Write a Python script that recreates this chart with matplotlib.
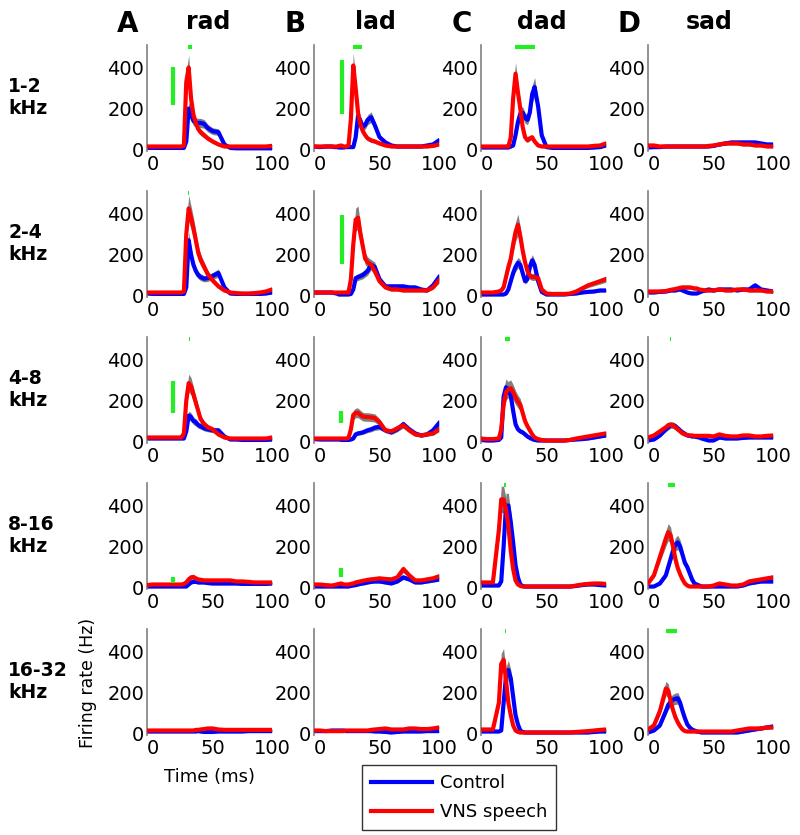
import matplotlib
matplotlib.use('Agg')
import matplotlib.pyplot as plt
from matplotlib.lines import Line2D
import numpy as np

# time axis (ms) shared by all PSTHs
T = [-5, 0, 5, 10, 12, 14, 16, 18, 20, 22, 24, 26, 28, 30, 32, 34, 36, 38, 40,
     43, 46, 50, 55, 60, 65, 70, 75, 80, 85, 90, 95, 100]

sounds = ['rad', 'lad', 'dad', 'sad']
panel_letters = ['A', 'B', 'C', 'D']
bands = ['1-2\nkHz', '2-4\nkHz', '4-8\nkHz', '8-16\nkHz', '16-32\nkHz']

# firing rate (Hz), one list per sound: [rad, lad, dad, sad]
ctrl_1_2 = [
    [8, 8, 8, 8, 8, 8, 8, 8, 8, 8, 8, 8, 40, 200, 170, 140, 132, 130, 130, 125, 105, 90, 85, 25, 8, 6, 6, 6, 6, 6, 6, 6],
    [15, 12, 15, 15, 12, 12, 10, 10, 10, 12, 12, 12, 12, 60, 165, 140, 110, 120, 145, 158, 120, 61, 35, 20, 15, 15, 15, 15, 15, 20, 25, 45],
    [10, 10, 10, 10, 10, 10, 10, 10, 15, 20, 70, 134, 175, 180, 155, 145, 180, 270, 305, 210, 70, 12, 8, 8, 8, 8, 8, 8, 8, 10, 12, 20],
    [10, 12, 12, 15, 15, 15, 15, 15, 15, 15, 15, 15, 15, 15, 15, 15, 15, 15, 15, 15, 15, 18, 25, 30, 35, 35, 35, 35, 35, 30, 25, 25],
]
vns_1_2 = [
    [15, 15, 15, 15, 15, 15, 15, 15, 15, 15, 15, 20, 330, 400, 250, 170, 130, 100, 85, 70, 55, 40, 25, 15, 15, 15, 15, 15, 15, 15, 15, 18],
    [15, 15, 15, 15, 15, 15, 18, 20, 15, 15, 20, 150, 410, 300, 180, 120, 90, 70, 55, 45, 40, 30, 20, 15, 15, 15, 15, 15, 15, 15, 18, 25],
    [15, 15, 15, 15, 15, 15, 15, 15, 60, 250, 370, 280, 200, 110, 61, 45, 55, 60, 40, 20, 15, 15, 15, 15, 15, 15, 15, 15, 15, 18, 20, 30],
    [20, 20, 15, 15, 15, 15, 15, 15, 15, 15, 15, 15, 15, 15, 15, 15, 15, 15, 15, 15, 18, 20, 25, 30, 30, 30, 25, 25, 20, 20, 15, 15],
]
ctrl_2_4 = [
    [10, 8, 8, 8, 8, 8, 8, 8, 8, 8, 8, 8, 40, 270, 200, 150, 120, 100, 90, 82, 85, 95, 110, 40, 10, 8, 8, 8, 8, 8, 10, 15],
    [15, 15, 15, 15, 12, 10, 5, 5, 5, 5, 5, 8, 30, 85, 90, 95, 100, 110, 120, 150, 140, 80, 45, 45, 45, 45, 40, 40, 30, 25, 50, 90],
    [5, 5, 5, 5, 5, 5, 10, 30, 70, 110, 140, 160, 150, 110, 70, 80, 140, 172, 150, 70, 18, 5, 5, 5, 5, 8, 10, 15, 18, 20, 25, 25],
    [15, 15, 18, 20, 22, 25, 25, 25, 28, 30, 25, 20, 15, 12, 10, 10, 10, 15, 20, 25, 30, 25, 30, 30, 30, 25, 30, 30, 50, 30, 25, 20],
]
vns_2_4 = [
    [15, 15, 15, 15, 15, 15, 15, 15, 15, 15, 15, 20, 300, 425, 380, 330, 270, 210, 175, 140, 105, 75, 45, 25, 15, 12, 10, 10, 12, 15, 20, 30],
    [15, 15, 15, 15, 15, 15, 15, 15, 15, 15, 15, 80, 250, 370, 380, 300, 240, 180, 162, 150, 120, 70, 40, 30, 30, 25, 25, 25, 25, 25, 40, 75],
    [15, 15, 15, 20, 25, 40, 90, 140, 180, 250, 310, 345, 290, 220, 162, 120, 97, 90, 92, 85, 30, 10, 8, 8, 8, 10, 20, 35, 50, 60, 70, 80],
    [20, 20, 20, 22, 25, 28, 30, 32, 35, 38, 40, 40, 40, 40, 38, 35, 35, 30, 28, 25, 25, 25, 30, 25, 25, 30, 30, 25, 25, 25, 20, 20],
]
ctrl_4_8 = [
    [15, 15, 15, 15, 15, 15, 15, 15, 15, 15, 15, 15, 50, 127, 120, 100, 95, 80, 75, 65, 60, 55, 55, 25, 10, 10, 8, 8, 8, 8, 8, 10],
    [12, 10, 10, 10, 10, 10, 10, 8, 8, 8, 8, 10, 15, 35, 40, 42, 45, 50, 55, 60, 68, 72, 55, 45, 60, 85, 60, 40, 30, 35, 55, 90],
    [8, 5, 5, 8, 20, 220, 265, 250, 225, 150, 85, 60, 50, 45, 35, 25, 18, 12, 8, 5, 5, 5, 5, 5, 5, 8, 10, 12, 15, 20, 25, 30],
    [5, 10, 30, 60, 70, 80, 80, 75, 65, 55, 45, 38, 30, 28, 25, 25, 22, 20, 15, 10, 5, 5, 20, 15, 15, 15, 18, 20, 20, 20, 20, 20],
]
vns_4_8 = [
    [20, 20, 20, 20, 20, 20, 20, 20, 20, 20, 20, 40, 200, 285, 270, 230, 190, 150, 110, 85, 70, 60, 35, 20, 15, 15, 15, 15, 15, 15, 15, 20],
    [15, 15, 15, 15, 15, 15, 15, 15, 15, 15, 18, 60, 130, 140, 140, 130, 122, 120, 120, 118, 115, 95, 55, 50, 65, 80, 55, 35, 30, 35, 40, 60],
    [15, 12, 12, 15, 60, 180, 240, 255, 260, 240, 215, 195, 180, 140, 100, 75, 55, 35, 20, 12, 8, 5, 5, 5, 5, 8, 15, 20, 25, 30, 35, 40],
    [20, 30, 50, 70, 80, 82, 80, 70, 60, 50, 40, 35, 32, 30, 30, 28, 28, 28, 28, 28, 28, 25, 35, 28, 25, 25, 30, 30, 25, 25, 28, 30],
]
ctrl_8_16 = [
    [5, 5, 5, 5, 5, 5, 5, 5, 5, 5, 5, 5, 5, 15, 25, 28, 28, 25, 25, 25, 22, 20, 20, 20, 20, 20, 18, 18, 18, 18, 18, 20],
    [5, 5, 5, 5, 5, 5, 5, 5, 5, 5, 5, 8, 10, 12, 15, 18, 20, 22, 25, 28, 30, 30, 25, 20, 30, 50, 40, 25, 25, 30, 35, 40],
    [10, 10, 10, 10, 30, 200, 400, 400, 320, 220, 110, 50, 15, 8, 5, 5, 5, 5, 5, 5, 5, 5, 5, 5, 5, 5, 8, 12, 15, 15, 12, 10],
    [5, 5, 20, 60, 100, 140, 180, 210, 220, 200, 160, 120, 100, 70, 40, 20, 15, 10, 5, 5, 5, 5, 5, 5, 5, 5, 10, 20, 25, 30, 30, 30],
]
vns_8_16 = [
    [12, 15, 15, 15, 15, 15, 15, 15, 15, 15, 15, 18, 25, 40, 50, 52, 45, 40, 38, 35, 35, 35, 35, 35, 35, 30, 30, 28, 25, 25, 25, 25],
    [15, 15, 12, 10, 12, 15, 18, 20, 15, 15, 15, 18, 20, 25, 28, 30, 33, 35, 38, 40, 42, 45, 42, 40, 50, 90, 60, 35, 35, 40, 45, 55],
    [25, 25, 25, 280, 430, 430, 380, 300, 180, 90, 35, 15, 8, 5, 5, 5, 5, 5, 5, 5, 5, 5, 5, 5, 5, 5, 10, 15, 18, 20, 20, 18],
    [20, 60, 150, 240, 270, 255, 200, 140, 95, 65, 40, 20, 10, 5, 5, 5, 5, 5, 5, 5, 5, 10, 20, 15, 10, 10, 15, 30, 35, 40, 45, 50],
]
ctrl_16_32 = [
    [10, 10, 10, 10, 10, 10, 10, 10, 10, 10, 10, 10, 10, 10, 10, 10, 10, 12, 10, 8, 8, 8, 10, 10, 10, 10, 10, 12, 12, 12, 12, 12],
    [12, 12, 12, 15, 15, 15, 15, 15, 15, 12, 12, 12, 12, 12, 12, 12, 12, 12, 12, 12, 10, 10, 8, 5, 8, 10, 10, 10, 10, 12, 12, 12],
    [10, 10, 10, 10, 15, 150, 280, 310, 270, 180, 90, 45, 15, 8, 5, 5, 5, 5, 5, 5, 5, 5, 5, 5, 5, 5, 5, 5, 5, 8, 10, 10],
    [5, 15, 40, 110, 140, 155, 165, 170, 172, 150, 110, 75, 45, 30, 20, 15, 10, 8, 5, 5, 5, 5, 5, 5, 5, 5, 10, 15, 20, 25, 30, 35],
]
vns_16_32 = [
    [15, 15, 15, 15, 15, 15, 15, 15, 15, 15, 15, 15, 15, 15, 15, 15, 18, 18, 20, 22, 25, 25, 20, 18, 18, 18, 18, 18, 18, 18, 18, 18],
    [15, 15, 12, 12, 12, 12, 12, 12, 12, 15, 15, 15, 15, 15, 15, 15, 15, 15, 15, 18, 20, 22, 25, 20, 20, 20, 25, 25, 22, 22, 25, 30],
    [20, 20, 20, 150, 340, 360, 260, 150, 90, 40, 15, 8, 5, 5, 5, 5, 5, 5, 5, 5, 5, 5, 5, 5, 5, 5, 8, 10, 12, 15, 18, 20],
    [20, 40, 110, 220, 210, 160, 115, 80, 55, 35, 20, 12, 10, 10, 10, 10, 10, 10, 10, 10, 10, 10, 10, 10, 10, 15, 20, 25, 25, 25, 30, 30],
]

ctrl_rows = [ctrl_1_2, ctrl_2_4, ctrl_4_8, ctrl_8_16, ctrl_16_32]
vns_rows = [vns_1_2, vns_2_4, vns_4_8, vns_8_16, vns_16_32]

# significance marks: onset (row, col, time, rate_lo, rate_hi), peak (row, col, t0, t1)
onset_marks = [(0, 0, 17, 217, 402), (0, 1, 18.5, 173, 437), (1, 1, 18.5, 156, 395),
               (2, 0, 17, 137, 293), (2, 1, 18, 93, 151), (3, 0, 17, 20, 50), (3, 1, 18, 50, 97)]
peak_marks = [(0, 0, 29.5, 33), (0, 1, 28, 35), (0, 2, 23.5, 40), (1, 0, 29.8, 30.6),
              (2, 0, 30.5, 31.2), (2, 2, 15, 19.5), (2, 3, 13.5, 14.2), (3, 2, 14.5, 16),
              (3, 3, 12, 18), (4, 2, 15, 16), (4, 3, 10, 19)]

W, H = 800, 835
col_left = [147, 314, 481, 648]
row_top = [45, 191, 337, 483, 629]
ax_w, ax_h = 125, 105.6
green = '#22ee22'

fig = plt.figure(figsize=(W / 100, H / 100), dpi=100)
plt.rcParams['font.family'] = ['DejaVu Sans']

axes = {}
for r in range(5):
    for c in range(4):
        ax = fig.add_axes([col_left[c] / W, 1 - (row_top[r] + ax_h) / H, ax_w / W, ax_h / H])
        axes[(r, c)] = ax
        t = np.array(T)
        for y in [np.array(ctrl_rows[r][c]), np.array(vns_rows[r][c])]:
            err = 0.14 * y + 4
            ax.fill_between(t, y - err, y + err, color='#808080', lw=0, zorder=1)
        ax.plot(t, ctrl_rows[r][c], color='#0000ff', lw=3, zorder=2)
        ax.plot(t, vns_rows[r][c], color='#ff0000', lw=3, zorder=3)
        ax.set_xlim(-5, 100)
        ax.set_ylim(-5, 510)
        ax.set_xticks([0, 50, 100])
        ax.set_yticks([0, 200, 400])
        ax.tick_params(length=0, labelsize=14, pad=2)
        ax.tick_params(axis='x', pad=3)
        for s in ['top', 'right', 'bottom']:
            ax.spines[s].set_visible(False)
        ax.spines['left'].set_color('#808080')
        ax.spines['left'].set_linewidth(1.2)
        ax.patch.set_alpha(0)

for r, c, x, y0, y1 in onset_marks:
    axes[(r, c)].plot([x, x], [y0, y1], color=green, lw=3, solid_capstyle='butt', zorder=4)
for r, c, x0, x1 in peak_marks:
    axes[(r, c)].plot([x0, x1], [500, 500], color=green, lw=3, solid_capstyle='butt',
                      zorder=4, clip_on=False)

for c in range(4):
    x0 = col_left[c]
    fig.text((x0 - 19) / W, 1 - 24 / H, panel_letters[c], fontsize=20, fontweight='bold',
             ha='center', va='center')
    fig.text((x0 + 61) / W, 1 - 22 / H, sounds[c], fontsize=17, fontweight='bold',
             ha='center', va='center')

for r in range(5):
    fig.text(8 / W, 1 - (row_top[r] + ax_h / 2) / H, bands[r], fontsize=13.5, fontweight='bold',
             ha='left', va='center', multialignment='left', linespacing=1.2)

fig.text(88 / W, 1 - 683 / H, 'Firing rate (Hz)', fontsize=12.5, rotation=90,
         ha='center', va='center')
fig.text(210 / W, 1 - 777 / H, 'Time (ms)', fontsize=13, ha='center', va='center')

handles = [Line2D([], [], color='#0000ff', lw=3), Line2D([], [], color='#ff0000', lw=3)]
leg = fig.legend(handles, ['Control', 'VNS speech'], loc='lower left',
                 bbox_to_anchor=(362 / W, 5 / H), frameon=True, fancybox=False,
                 edgecolor='black', fontsize=13, handlelength=3.4, handletextpad=0.4,
                 borderpad=0.5, labelspacing=0.6, borderaxespad=0)
leg.get_frame().set_linewidth(1.0)

fig.savefig('out.png', dpi=100)
